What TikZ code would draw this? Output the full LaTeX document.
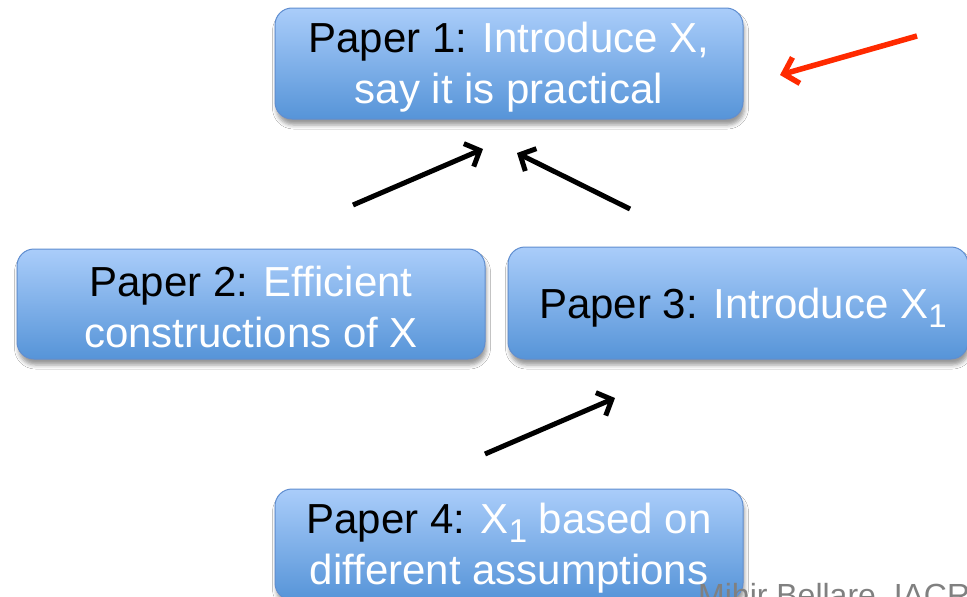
\documentclass[tikz,border=0pt]{standalone}
\usepackage{fontspec}
\setmainfont{Liberation Sans}
\usetikzlibrary{arrows.meta,shadows.blur}
\definecolor{boxtop}{RGB}{170,205,250}
\definecolor{boxbot}{RGB}{86,148,216}
\definecolor{boxline}{RGB}{96,142,208}
\definecolor{redarr}{RGB}{255,42,0}
\definecolor{wmgray}{RGB}{128,128,128}
\newcommand{\lowsub}[1]{\raisebox{-9pt}{\fontsize{33}{33}\selectfont #1}}
\begin{document}
\begin{tikzpicture}[x=1pt,y=-1pt,
  paper/.style={rounded corners=17pt, draw=boxline, line width=1pt,
    top color=boxtop, bottom color=boxbot, inner sep=0pt,
    minimum height=111pt,
    blur shadow={shadow xshift=1.5pt, shadow yshift=-6pt, shadow blur radius=4pt, shadow opacity=40}},
  papertext/.style={align=center, inner sep=0pt, font=\fontsize{42}{51}\selectfont, text=white},
  conn/.style={line width=5pt, -{Straight Barb[length=12pt,width=25pt,line width=5pt]}},
  redconn/.style={line width=5.5pt, draw=redarr, -{Straight Barb[length=13pt,width=27pt,line width=5.5pt]}},
]
\useasboundingbox (0,0) rectangle (967,597);
\clip (0,0) rectangle (967,597);
\fill[white] (0,0) rectangle (967,597);

\node[paper, minimum width=468pt] (p1) at (509,63.5) {};
\node[paper, minimum width=468pt, minimum height=110pt] (p2) at (251,304) {};
\node[paper, minimum width=460pt, minimum height=112pt] (p3) at (738,303) {};
\node[paper, minimum width=468pt] (p4) at (509,544.5) {};

\node[papertext] (t1) at ([yshift=-4pt]p1.center)
  {\textcolor{black}{Paper 1:} Introduce X,\\say it is practical};
\node[papertext] (t2) at ([yshift=-3pt]p2.center)
  {\textcolor{black}{Paper 2:} Efficient\\constructions of X};
\node[papertext] (t3) at ([xshift=5pt,yshift=-5pt]p3.center)
  {\textcolor{black}{Paper 3:} Introduce X\lowsub{1}};
\node[papertext] (t4) at ([yshift=-4pt]p4.center)
  {\textcolor{black}{Paper 4:} X\lowsub{1} based on\\different assumptions};

\node[font=\fontsize{32}{32}\selectfont, text=wmgray, anchor=base west, inner sep=0pt] (wm) at (698,606) {Mihir Bellare, IACR};

\coordinate (a1s) at (353,205);
\coordinate (a1e) at (483,149);
\coordinate (a2s) at (630,209);
\coordinate (a2e) at (517,153);
\coordinate (a3s) at (485,454);
\coordinate (a3e) at (615,398);
\coordinate (rs) at (917,36);
\coordinate (re) at (780,75);

\draw[conn] (a1s) -- (a1e);
\draw[conn] (a2s) -- (a2e);
\draw[conn] (a3s) -- (a3e);
\draw[redconn] (rs) -- (re);
\end{tikzpicture}
\end{document}
